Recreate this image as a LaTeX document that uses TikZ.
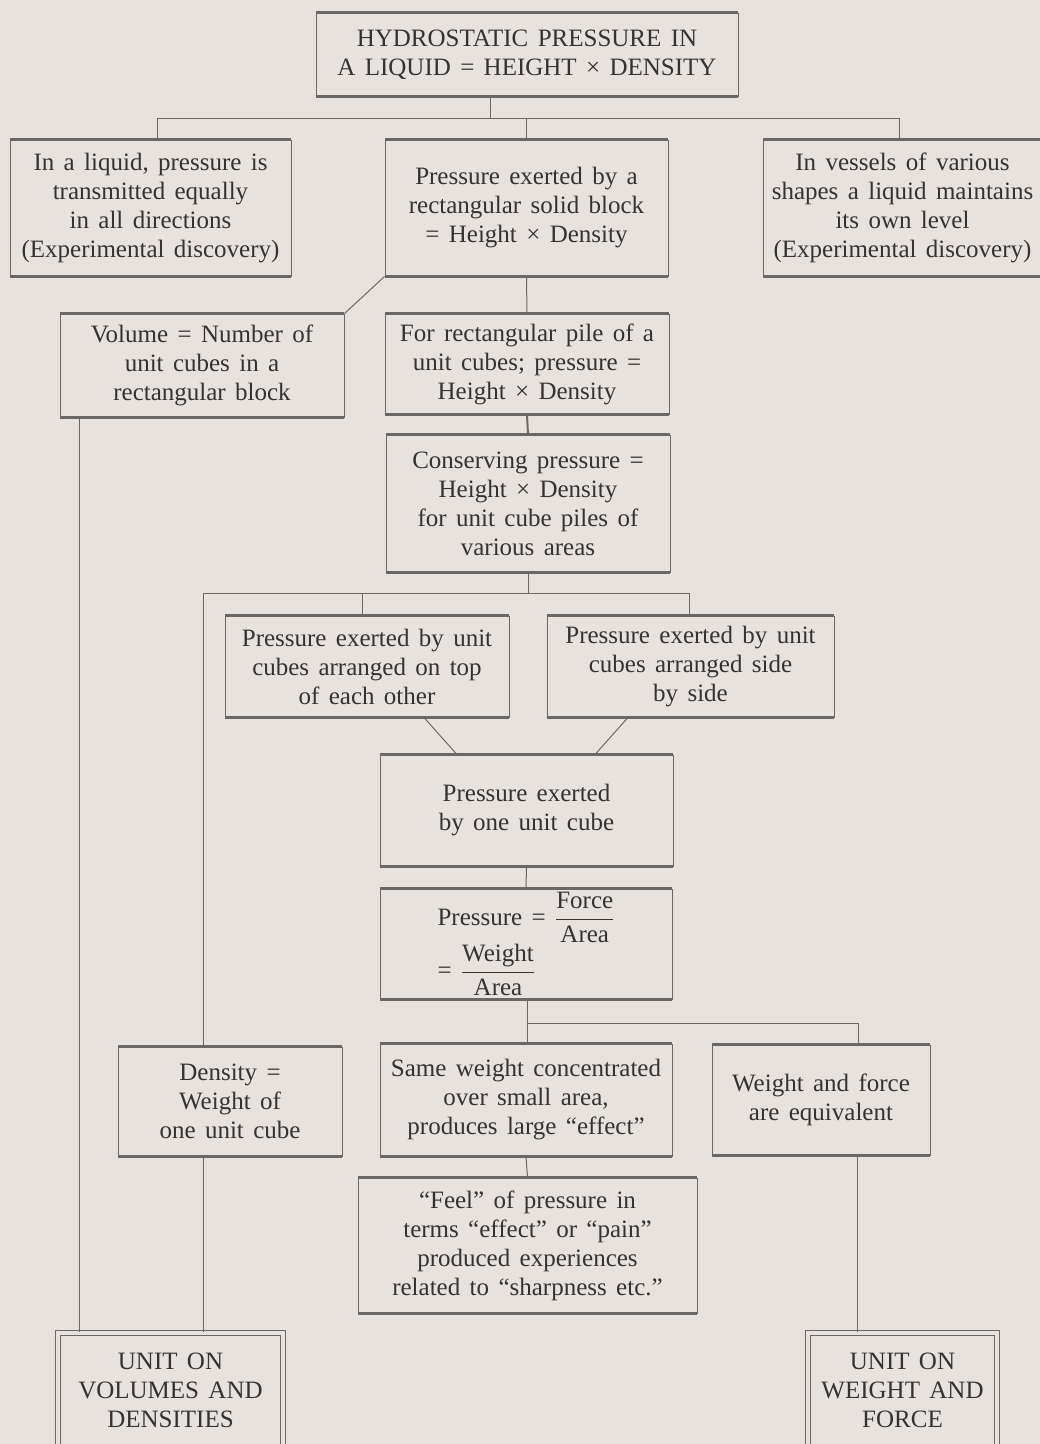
\documentclass[tikz,border=0pt]{standalone}
\usepackage{fontspec}
\setmainfont{Liberation Serif}[WordSpace=1.5]
\definecolor{paper}{HTML}{E7E2DE}
\definecolor{ink}{HTML}{333333}
\definecolor{rule}{HTML}{6A6866}

\begin{document}
\begin{tikzpicture}[x=1pt,y=-1pt]
\tikzset{edge/.style = {-, draw=rule, line width=1pt}}
\tikzset{rim/.style = {draw=rule, line width=2.4pt}}
\tikzset{card/.style = {shape=rectangle, draw=rule, line width=0.9pt, align=center, text=ink, inner sep=0pt, font=\fontsize{25}{29}\selectfont}}
\tikzset{unit/.style = {card, line width=1.3pt, double=paper, double distance=3.5pt}}
\def \frc #1#2{$\displaystyle\frac{\hbox{#1}}{\hbox{#2}}$}
\fill[paper, use as bounding box] (0,0) rectangle (1040,1444);
% boxes
\node[card, minimum width=422pt, minimum height=83pt](top) at (527,54.5) {HYDROSTATIC PRESSURE IN\\A LIQUID = HEIGHT × DENSITY};
\node[card, minimum width=281pt, minimum height=136pt](L1) at (150.5,208) {In a liquid, pressure is\\transmitted equally\\in all directions\\(Experimental discovery)};
\node[card, minimum width=283pt, minimum height=136pt](M1) at (526.5,208) {Pressure exerted by a\\rectangular solid block\\= Height × Density};
\node[card, minimum width=279pt, minimum height=136pt](R1) at (902.5,208) {In vessels of various\\shapes a liquid maintains\\its own level\\(Experimental discovery)};
\node[card, minimum width=284pt, minimum height=103pt](vol) at (202,365.5) {Volume = Number of\\unit cubes in a\\rectangular block};
\node[card, minimum width=284pt, minimum height=100pt](pile) at (527,364) {For rectangular pile of a\\unit cubes; pressure =\\Height × Density};
\node[card, minimum width=284pt, minimum height=137pt](cons) at (528,503.5) {Conserving pressure =\\Height × Density\\for unit cube piles of\\various areas};
\node[card, minimum width=284pt, minimum height=101pt](topof) at (367,666.5) {Pressure exerted by unit\\cubes arranged on top\\of each other};
\node[card, minimum width=287pt, minimum height=101pt](side) at (690.5,666.5) {Pressure exerted by unit\\cubes arranged side\\by side};
\node[card, minimum width=293pt, minimum height=111pt](onecube) at (526.5,810.5) {Pressure exerted\\by one unit cube};
\node[card, align=left, minimum width=292pt, minimum height=110pt](formula) at (526,944) {Pressure = \frc{Force}{Area}\\[0pt]= \frc{Weight}{Area}};
\node[card, minimum width=224pt, minimum height=109pt](density) at (230,1101.5) {Density =\\Weight of\\one unit cube};
\node[card, minimum width=292pt, minimum height=112pt](same) at (526,1100) {Same weight concentrated\\over small area,\\produces large ``effect''};
\node[card, minimum width=218pt, minimum height=110pt](wf) at (821,1100) {Weight and force\\are equivalent};
\node[card, minimum width=339pt, minimum height=135pt](feel) at (527.5,1245.5) {``Feel'' of pressure in\\terms ``effect'' or ``pain''\\produced experiences\\related to ``sharpness etc.''};
\node[unit, minimum width=225pt, minimum height=115pt](bl) at (170.5,1390.5) {UNIT ON\\VOLUMES AND\\DENSITIES};
\node[unit, minimum width=189pt, minimum height=115pt](br) at (902.5,1390.5) {UNIT ON\\WEIGHT AND\\FORCE};
\foreach \b in {top,L1,M1,R1,vol,pile,cons,topof,side,onecube,formula,density,same,wf,feel}
  \draw[rim] (\b.north west) -- (\b.north east) (\b.south west) -- (\b.south east);
% junctions
\coordinate (j1) at (490,118);
\coordinate (j1l) at (157,118);
\coordinate (j1r) at (899,118);
\coordinate (j2) at (528,593);
\coordinate (j2l) at (203,593);
\coordinate (j2r) at (689,593);
\coordinate (j3) at (527,1023);
\coordinate (j3r) at (858,1023);
% connectors
\draw[edge] (top.south -| j1) -- (j1);
\draw[edge] (j1l) -- (j1r);
\draw[edge] (j1l) -- (L1.north -| j1l);
\draw[edge] (j1 -| M1.north) -- (M1.north);
\draw[edge] (j1r) -- (R1.north -| j1r);
\draw[edge] (M1.south west) -- (vol.north east);
\draw[edge] (M1.south) -- (pile.north);
\draw[edge, line width=2pt] (pile.south) -- (cons.north);
\draw[edge] (cons.south) -- (j2);
\draw[edge] (j2l) -- (j2r);
\draw[edge] (j2l -| 362,0) -- (topof.north -| 362,0);
\draw[edge] (j2r) -- (side.north -| j2r);
\draw[edge] (j2l) -- (density.north -| j2l);
\draw[edge] (vol.south -| 79,0) -- (bl.north -| 79,0);
\draw[edge] (topof.south -| 424,0) -- (onecube.north -| 457,0);
\draw[edge] (side.south -| 628,0) -- (onecube.north -| 595,0);
\draw[edge] (onecube.south) -- (formula.north);
\draw[edge] (formula.south -| j3) -- (same.north -| j3);
\draw[edge] (j3) -- (j3r) -- (wf.north -| j3r);
\draw[edge] (density.south -| j2l) -- (bl.north -| j2l);
\draw[edge] (same.south) -- (feel.north);
\draw[edge] (wf.south -| 857,0) -- (br.north -| 857,0);
\end{tikzpicture}
\end{document}
